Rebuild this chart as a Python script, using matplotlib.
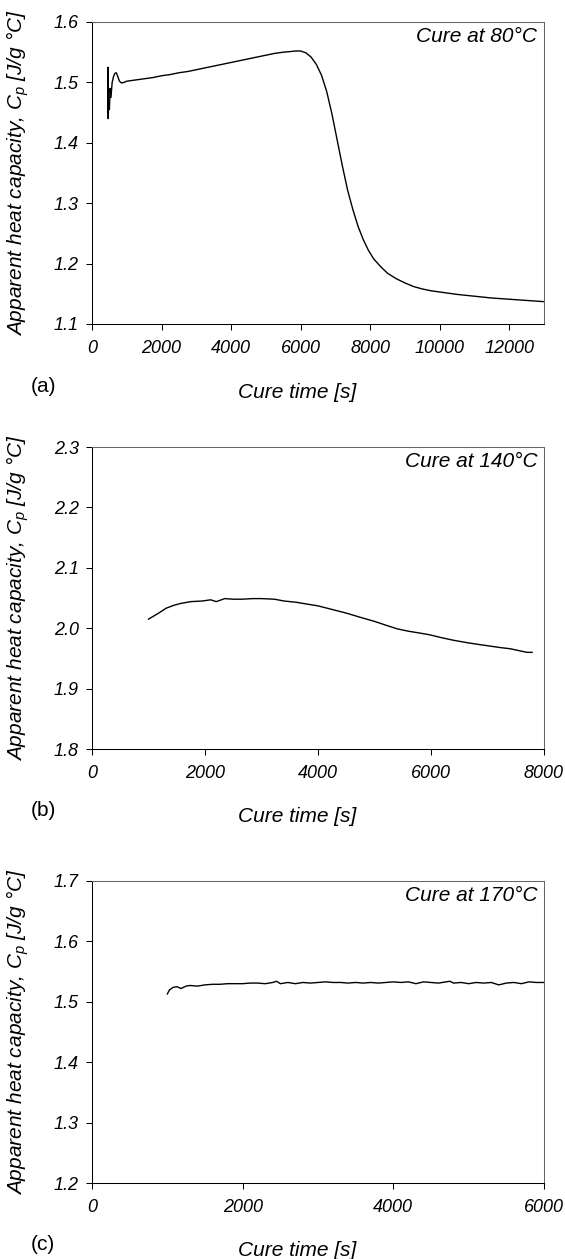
#!/usr/bin/env python3
"""Apparent heat capacity vs cure time at three cure temperatures (3 stacked panels)."""
import matplotlib
matplotlib.use("Agg")
import matplotlib.pyplot as plt
import matplotlib.ticker as ticker

matplotlib.rcParams.update({
    "font.family": ["Liberation Sans", "DejaVu Sans"],
    "font.style": "italic",
    "mathtext.fontset": "custom",
    "mathtext.it": "Liberation Sans:italic",
    "mathtext.rm": "Liberation Sans:italic",
    "axes.linewidth": 0.75,
})

# ── data ──────────────────────────────────────────────────────────────────────
# (a) cure at 80 C
time_a = [450, 458, 466, 480, 500, 520, 545, 580, 620, 660, 700, 740, 790, 850,
          920, 1000, 1250, 1500, 1750, 2000, 2250, 2500, 2750, 3000, 3250, 3500,
          3750, 4000, 4250, 4500, 4750, 5000, 5250, 5500, 5700, 5850, 6000, 6150,
          6300, 6450, 6600, 6750, 6900, 7050, 7200, 7350, 7500, 7650, 7800, 7950,
          8100, 8300, 8500, 8750, 9000, 9250, 9500, 9750, 10000, 10500, 11000,
          11500, 12000, 12500, 13000]
cp_a = [1.450, 1.525, 1.440, 1.470, 1.455, 1.490, 1.475, 1.500, 1.510, 1.515,
        1.516, 1.510, 1.502, 1.499, 1.500, 1.502, 1.504, 1.506, 1.508, 1.511,
        1.513, 1.516, 1.518, 1.521, 1.524, 1.527, 1.530, 1.533, 1.536, 1.539,
        1.542, 1.545, 1.548, 1.550, 1.551, 1.552, 1.552, 1.549, 1.542, 1.530,
        1.512, 1.485, 1.448, 1.405, 1.362, 1.322, 1.290, 1.262, 1.240, 1.222,
        1.208, 1.195, 1.184, 1.175, 1.168, 1.162, 1.158, 1.155, 1.153, 1.149,
        1.146, 1.143, 1.141, 1.139, 1.137]

# (b) cure at 140 C
time_b = [1000, 1090, 1180, 1310, 1450, 1570, 1750, 1950, 2100, 2200, 2350, 2500,
          2650, 2850, 3000, 3230, 3400, 3610, 3800, 4000, 4250, 4500, 4750, 5010,
          5200, 5400, 5600, 5800, 5980, 6200, 6400, 6640, 6850, 7000, 7220, 7400,
          7550, 7700, 7790]
cp_b = [2.015, 2.020, 2.025, 2.033, 2.038, 2.041, 2.044, 2.045, 2.047, 2.044,
        2.049, 2.048, 2.048, 2.049, 2.049, 2.048, 2.045, 2.043, 2.040, 2.037,
        2.031, 2.025, 2.018, 2.011, 2.005, 1.999, 1.995, 1.992, 1.989, 1.984,
        1.980, 1.976, 1.973, 1.971, 1.968, 1.966, 1.963, 1.960, 1.960]

# (c) cure at 170 C
time_c = [1000, 1030, 1080, 1130, 1180, 1250, 1300, 1400, 1500, 1600, 1700, 1800,
          1900, 2000, 2100, 2200, 2300, 2400, 2450, 2500, 2600, 2700, 2800, 2900,
          3000, 3100, 3200, 3300, 3400, 3500, 3600, 3700, 3800, 3900, 4000, 4100,
          4200, 4300, 4400, 4500, 4600, 4700, 4750, 4800, 4900, 5000, 5100, 5200,
          5300, 5400, 5500, 5600, 5700, 5800, 5900, 6000]
cp_c = [1.513, 1.520, 1.524, 1.525, 1.522, 1.526, 1.527, 1.526, 1.528, 1.529,
        1.529, 1.530, 1.530, 1.530, 1.531, 1.531, 1.530, 1.532, 1.534, 1.530,
        1.532, 1.530, 1.532, 1.531, 1.532, 1.533, 1.532, 1.532, 1.531, 1.532,
        1.531, 1.532, 1.531, 1.532, 1.533, 1.532, 1.533, 1.530, 1.533, 1.532,
        1.531, 1.533, 1.534, 1.531, 1.532, 1.530, 1.532, 1.531, 1.532, 1.528,
        1.531, 1.532, 1.530, 1.533, 1.532, 1.532]

panel_tags = ["(a)", "(b)", "(c)"]
cure_labels = ["Cure at 80°C", "Cure at 140°C", "Cure at 170°C"]
x_limits = [(0, 13000), (0, 8000), (0, 6000)]
x_steps = [2000, 2000, 2000]
y_limits = [(1.1, 1.6), (1.8, 2.3), (1.2, 1.7)]

# ── layout in pixels ──────────────────────────────────────────────────────────
W, H = 565, 1259
AX_LEFT, AX_RIGHT = 92, 544
AX_HEIGHT = 302
AX_BOTTOMS = [324, 749, 1183]


def main() -> None:
    fig = plt.figure(figsize=(W / 100, H / 100), dpi=100)
    series = [(time_a, cp_a), (time_b, cp_b), (time_c, cp_c)]

    for i, (t, cp) in enumerate(series):
        bot = AX_BOTTOMS[i]
        ax = fig.add_axes([AX_LEFT / W, 1 - bot / H,
                           (AX_RIGHT - AX_LEFT) / W, AX_HEIGHT / H])
        ax.plot(t, cp, color="black", lw=1.0)

        ax.set_xlim(*x_limits[i])
        ax.set_ylim(*y_limits[i])
        ax.xaxis.set_major_locator(ticker.MultipleLocator(x_steps[i]))
        ax.yaxis.set_major_locator(ticker.MultipleLocator(0.1))
        ax.yaxis.set_major_formatter(ticker.FormatStrFormatter("%.1f"))
        ax.tick_params(direction="out", length=4.5, width=0.75,
                       labelsize=13, top=False, right=False)
        ax.tick_params(axis="x", pad=7)
        ax.tick_params(axis="y", pad=5)
        for side in ("top", "right"):
            ax.spines[side].set_color("#666666")

        ax.text(0.985, 0.985, cure_labels[i], transform=ax.transAxes,
                ha="right", va="top", fontsize=15)

        # axis labels and panel tag placed in figure pixels
        yc = bot - AX_HEIGHT / 2
        fig.text(18 / W, 1 - yc / H, "Apparent heat capacity, $C_p$ [J/g °C]",
                 rotation=90, ha="center", va="center", fontsize=15)
        fig.text(297 / W, 1 - (bot + 68) / H, "Cure time [s]",
                 ha="center", va="center", fontsize=15)
        fig.text(43 / W, 1 - (bot + 62) / H, panel_tags[i],
                 ha="center", va="center", fontsize=15, style="normal")

    fig.savefig("out.png", dpi=100)
    plt.close(fig)


if __name__ == "__main__":
    main()
